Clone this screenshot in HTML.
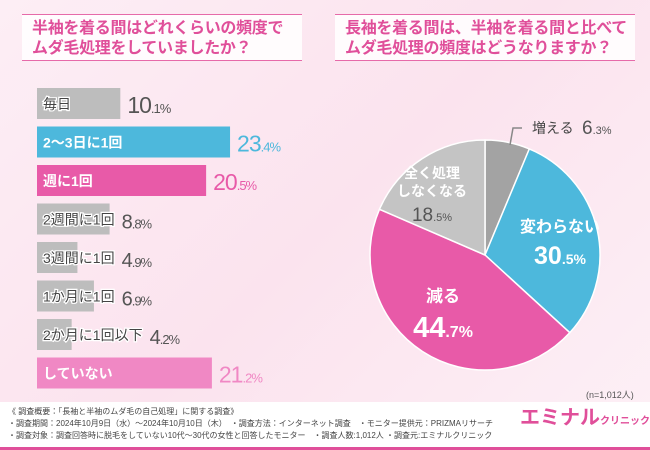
<!DOCTYPE html>
<html><head><meta charset="utf-8">
<style>
body{margin:0;width:650px;height:450px;overflow:hidden;font-family:"Liberation Sans","Noto Sans CJK JP",sans-serif;}
#root{position:relative;width:650px;height:450px;background:linear-gradient(135deg,#fdeef5,#fbe3ee 50%,#fdf0f6);}
.title{position:absolute;background:rgba(255,255,255,.85);border-top:1.5px solid #e66aa9;border-bottom:1.5px solid #e66aa9;color:#e04f9a;font-size:16px;font-weight:bold;line-height:20px;padding:4px 10px;box-sizing:border-box;white-space:nowrap;letter-spacing:-0.3px}
.footer{position:absolute;left:0;top:402px;width:650px;height:48px;background:#fff;border-bottom:3px solid #e04f9a;box-sizing:border-box;font-size:8px;color:#444;line-height:12px;padding:4px 8px;white-space:nowrap}
</style></head><body>
<div id="root">
<div class="title" style="left:22px;top:14px;width:280px;height:47px">半袖を着る間はどれくらいの頻度で<br>ムダ毛処理をしていましたか？</div>
<div class="title" style="left:335px;top:14px;width:300px;height:47px">長袖を着る間は、半袖を着る間と比べて<br>ムダ毛処理の頻度はどうなりますか？</div>
<svg id="bars" width="650" height="450" style="position:absolute;left:0;top:0"></svg>
<div style="position:absolute;left:586px;top:388px;font-size:9px;color:#555">(n=1,012人)</div>
<div class="footer">《 調査概要：「長袖と半袖のムダ毛の自己処理」に関する調査》<br>・調査期間：2024年10月9日（水）〜2024年10月10日（木）　・調査方法：インターネット調査　・モニター提供元：PRIZMAリサーチ<br>・調査対象：調査回答時に脱毛をしていない10代〜30代の女性と回答したモニター　・調査人数:1,012人 ・調査元:エミナルクリニック
<div style="position:absolute;left:520px;top:10px;color:#e04f9a;font-size:20px;font-weight:bold">エミナル<span style="font-size:10px">クリニック</span></div></div>
</div>
<script>
const categories=["毎日","2〜3日に1回","週に1回","2週間に1回","3週間に1回","1か月に1回","2か月に1回以下","していない"];
const values=[10.1,23.4,20.5,8.8,4.9,6.9,4.2,21.2];
const colors=["#bdbdbd","#4db8dc","#e85aa8","#bdbdbd","#bdbdbd","#bdbdbd","#bdbdbd","#f088c4"];
const valColors=["#555","#4db8dc","#e85aa8","#555","#555","#555","#555","#f088c4"];
const pieLabels=["増える","変わらない","減る","全く処理しなくなる"];
const pieValues=[6.3,30.5,44.7,18.5];
const pieColors=["#a3a3a3","#4db8dc","#e85aa8","#c4c4c4"];
const NS="http://www.w3.org/2000/svg";
const svg=document.getElementById('bars');
function mk(t,a,p){const e=document.createElementNS(NS,t);for(const k in a)e.setAttribute(k,a[k]);(p||svg).appendChild(e);return e;}
const x0=37,ppp=8.25;
function xs(v){return v*ppp;}
function ys(i){return 88+i*38.5;}
categories.forEach((c,i)=>{
  const w=xs(values[i]),y=ys(i);
  const r=mk('rect',{x:x0,y:y,width:w,height:31,fill:colors[i]});
  
  
  const big=values[i]>15||i==0;
  const white=i==1||i==2||i==7;
  const t=mk('text',{x:x0+6,y:y+21,'font-size':14,fill:white?'#fff':'#444','font-weight':white?'bold':'normal',stroke:white?'none':'#fff','stroke-width':white?0:2.5,'paint-order':'stroke'});
  t.textContent=c;
  
  
  const lw=t.getComputedTextLength?t.getComputedTextLength():c.length*14;
  const vx=Math.max(x0+w,x0+6+lw)+7;
  const v=mk('text',{x:vx,y:y+25,'font-size':big?23:20,fill:valColors[i],'letter-spacing':-1});
  const s=values[i].toFixed(1).split('.');
  v.innerHTML=s[0]+'<tspan font-size="13">.'+s[1]+'%</tspan>';
  
  
});
const cx=485,cy=255,R=115;
const tot=pieValues.reduce((a,b)=>a+b,0);
let a0=-Math.PI/2;
pieValues.forEach((v,i)=>{
  const a1=a0+v/tot*2*Math.PI;
  const large=a1-a0>Math.PI?1:0;
  const p=mk('path',{d:`M${cx},${cy}L${cx+R*Math.cos(a0)},${cy+R*Math.sin(a0)}A${R},${R} 0 ${large} 1 ${cx+R*Math.cos(a1)},${cy+R*Math.sin(a1)}Z`,fill:pieColors[i],stroke:'#fff','stroke-width':1.5});
  
  
  a0=a1;
});
function lbl(txt,x,y,size,fill,name,anchor,bold){const t=mk('text',{x:x,y:y,'font-size':size,fill:fill,'text-anchor':anchor||'middle','font-weight':bold?'bold':'normal'});t.innerHTML=txt;return t;}
function pct(v,small){const s=v.toFixed(1).split('.');return s[0]+'<tspan font-size="'+small+'">.'+s[1]+'%</tspan>';}
mk('polyline',{points:'510,145 513,128 522,128',fill:'none',stroke:'#888','stroke-width':1.5});
lbl(pieLabels[0],532,133,14,'#444','pie-label-increase','start');
lbl(pct(pieValues[0],11),582,134,19,'#555','pie-value-increase','start');
lbl(pieLabels[1],560,232,16,'#fff','pie-label-same','middle',true);
lbl(pct(pieValues[1],14),560,264,25,'#fff','pie-value-same','middle',true);
lbl(pieLabels[2],443,302,17,'#fff','pie-label-decrease','middle',true);
lbl(pct(pieValues[2],16),443,337,29,'#fff','pie-value-decrease','middle',true);
lbl('全く処理',432,178,14,'#fff','pie-label-stop-1','middle',true);
lbl('しなくなる',432,196,14,'#fff','pie-label-stop-2','middle',true);
lbl(pct(pieValues[3],11),432,221,19,'#555','pie-value-stop','middle');
</script>
</body></html>
